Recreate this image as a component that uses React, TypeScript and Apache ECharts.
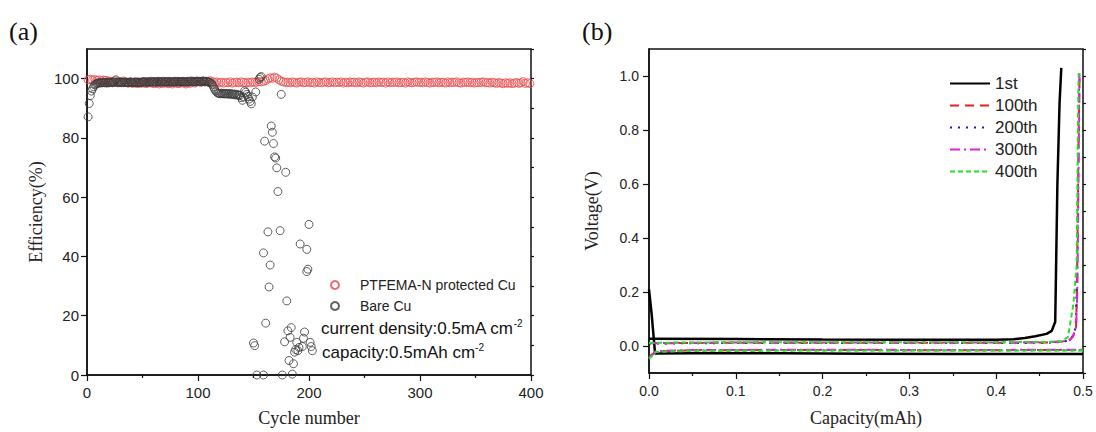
import React, { useEffect, useRef } from "react";
import * as echarts from "echarts";

// ---------- Panel (a): Coulombic efficiency vs cycle number ----------
const protectedStartCycle = 1;
const protectedCycleStep = 2;
const protectedEfficiency = [
  99.6, 99.8, 99.5, 99.7, 99.4, 99.6, 99.3, 99.5, 99.4, 99.2,
  99.1, 98.8, 99.3, 98.9, 99.0, 98.6, 99.2, 98.8, 98.5, 98.9, 98.4, 98.7, 98.3, 98.6, 98.4, 98.8, 98.3, 98.5, 98.7, 98.4,
  98.3, 98.6, 98.2, 98.5, 98.4, 98.7, 98.3, 98.5, 98.2, 98.6, 98.4, 98.3, 98.7, 98.5, 98.2, 98.6, 98.4, 98.8, 98.5, 98.9,
  99.0, 98.8, 99.2, 99.1, 98.9, 99.3, 99.0, 98.7, 98.9, 98.6, 98.8, 98.5, 98.7, 98.6, 98.9, 98.5, 98.7, 98.8, 98.6, 98.9,
  98.7, 98.5, 98.8, 98.6, 98.9, 98.7, 98.8, 99.0, 98.9, 99.1, 99.3, 99.9, 100.3, 100.1, 100.5, 100.2, 99.6, 99.1, 98.9, 98.7,
  98.8, 98.6, 98.9, 98.7, 98.5, 98.8, 98.9, 98.6, 98.7, 98.9, 98.6, 98.8, 98.5, 98.9, 98.7, 98.6, 98.8, 98.9, 98.6, 98.7,
  98.9, 98.6, 98.8, 98.7, 98.9, 98.5, 98.8, 98.6, 98.9, 98.7, 98.8, 98.6, 98.9, 98.7, 98.5, 98.8, 98.9, 98.6, 98.7, 98.8,
  98.6, 98.9, 98.7, 98.8, 98.5, 98.9, 98.6, 98.8, 98.7, 98.9, 98.6, 98.7, 98.8, 98.5, 98.9, 98.7, 98.6, 98.8, 98.9, 98.7,
  98.8, 98.6, 98.9, 98.7, 98.5, 98.8, 98.7, 98.9, 98.6, 98.8, 98.7, 98.5, 98.9, 98.6, 98.8, 98.7, 98.9, 98.6, 98.5, 98.8,
  98.7, 98.9, 98.6, 98.8, 98.5, 98.7, 98.6, 98.8, 98.9, 98.6, 98.7, 98.5, 98.8, 98.6, 98.4, 98.7, 98.5, 98.3, 98.6, 98.4,
  98.6, 98.3, 98.5, 98.7, 98.4, 98.6, 99.0, 98.4, 98.6, 98.3,
];

const bareBandStartCycle = 1;
const bareBandEfficiency = [
  87.1, 91.6, 94.3, 95.8, 96.6, 97.3, 97.9, 98.2, 98.4, 98.5,
  98.6, 98.5, 98.7, 98.6, 98.8, 98.6, 98.7, 98.5, 98.8, 98.6, 98.7, 98.8, 98.6, 98.9, 98.7, 99.6, 98.8, 98.6, 98.7, 98.9,
  98.7, 98.8, 98.6, 98.9, 98.7, 98.8, 98.6, 98.7, 98.9, 98.8, 98.6, 98.7, 98.9, 98.8, 98.7, 98.9, 98.6, 98.8, 98.7, 98.9,
  99.0, 98.8, 98.9, 98.7, 99.0, 98.8, 98.9, 99.1, 98.8, 98.9, 99.0, 98.8, 98.9, 99.1, 98.9, 98.8, 99.0, 98.9, 99.1, 98.8,
  98.9, 99.0, 98.8, 99.1, 98.9, 99.0, 98.8, 98.9, 99.1, 99.0, 98.9, 99.1, 98.8, 99.0, 98.9, 99.1, 99.0, 98.8, 99.0, 98.9,
  99.1, 98.9, 99.0, 99.2, 98.9, 99.1, 99.0, 98.9, 99.2, 99.0, 99.1, 98.9, 99.0, 99.2, 99.1, 98.9, 99.0, 99.1, 98.9, 98.8,
  98.7, 98.4, 97.9, 97.2, 96.4, 95.8, 95.4, 95.1, 95.0, 94.9, 95.1, 94.9, 95.0, 94.8, 95.0, 94.9, 94.8, 95.0, 94.7, 94.9,
  94.8, 94.6, 94.8, 94.5, 94.7, 94.4, 94.5, 94.3, 93.6, 92.7, 93.8, 95.9, 95.4, 94.7, 94.0, 93.1, 92.3, 91.5, 93.8,
];

const bareScatterCycles = [
  150, 151, 152, 153, 155, 156, 157, 159, 159, 160, 161, 163, 164, 165, 166, 167, 168, 169, 170, 171,
  172, 174, 175, 176, 178, 179, 180, 181, 182, 183, 184, 185, 186, 187, 188, 189, 190, 191, 192, 194,
  195, 196, 198, 198, 199, 200, 201, 202, 203,
];
const bareScatterEfficiency = [
  10.8, 9.9, 95.5, 0, 99.8, 100.4, 100.7, 0, 41.2, 78.9, 17.5, 48.3, 29.7, 37.1, 84.0, 81.9, 78.1, 73.6, 73.2, 69.9,
  61.9, 48.7, 94.7, 0, 11.2, 68.4, 25.0, 14.9, 4.9, 12.7, 16.0, 0.3, 3.8, 7.7, 8.6, 11.0, 8.2, 9.3, 44.2, 9.6,
  12.4, 14.5, 42.4, 34.9, 35.7, 50.8, 11.0, 9.6, 8.2,
];

const efficiencyTicks = [0, 20, 40, 60, 80, 100];
const cycleTicks = [0, 100, 200, 300, 400];

// ---------- Panel (b): voltage profiles ----------
const cycleNames = ["1st", "100th", "200th", "300th", "400th"];

const c1PlateCap = [0, 0.003, 0.007, 0.05, 0.15, 0.25, 0.35, 0.45, 0.5];
const c1PlateVolt = [0.21, 0.12, -0.028, -0.027, -0.027, -0.029, -0.03, -0.03, -0.03];
const c1StripCap = [0, 0.1, 0.2, 0.3, 0.4, 0.42, 0.433, 0.445, 0.458, 0.464, 0.468, 0.4705, 0.473, 0.475];
const c1StripVolt = [0.027, 0.026, 0.024, 0.023, 0.023, 0.025, 0.03, 0.036, 0.045, 0.056, 0.09, 0.6, 0.9, 1.03];

const cNPlateCap = [0, 0.004, 0.008, 0.05, 0.15, 0.25, 0.35, 0.45, 0.5];
const c100PlateVolt = [-0.04, -0.03, -0.02, -0.016, -0.015, -0.015, -0.016, -0.015, -0.015];
const c200PlateVolt = [-0.043, -0.032, -0.021, -0.017, -0.016, -0.016, -0.016, -0.016, -0.016];
const c300PlateVolt = [-0.045, -0.033, -0.019, -0.015, -0.014, -0.014, -0.015, -0.014, -0.014];
const c400PlateVolt = [-0.047, -0.034, -0.022, -0.018, -0.017, -0.017, -0.017, -0.017, -0.017];

const c100StripCap = [0, 0.1, 0.2, 0.3, 0.4, 0.46, 0.478, 0.485, 0.489, 0.492, 0.493, 0.494, 0.495, 0.496];
const c100StripVolt = [0.01, 0.012, 0.012, 0.012, 0.012, 0.013, 0.017, 0.024, 0.04, 0.07, 0.2, 0.5, 0.8, 1.0];
const c200StripCap = [0, 0.1, 0.2, 0.3, 0.4, 0.46, 0.478, 0.485, 0.489, 0.4915, 0.493, 0.494, 0.495, 0.4955];
const c200StripVolt = [0.009, 0.011, 0.011, 0.011, 0.011, 0.012, 0.016, 0.023, 0.038, 0.07, 0.25, 0.55, 0.85, 1.0];
const c300StripCap = [0, 0.1, 0.2, 0.3, 0.4, 0.46, 0.478, 0.485, 0.489, 0.492, 0.4935, 0.4945, 0.4955, 0.496];
const c300StripVolt = [0.011, 0.013, 0.013, 0.013, 0.013, 0.014, 0.018, 0.022, 0.04, 0.07, 0.2, 0.5, 0.85, 1.01];
const c400StripCap = [0, 0.1, 0.2, 0.3, 0.4, 0.46, 0.475, 0.4827, 0.4889, 0.4927, 0.4935, 0.494, 0.4945, 0.495];
const c400StripVolt = [0.012, 0.014, 0.014, 0.014, 0.014, 0.015, 0.018, 0.033, 0.155, 0.3, 0.55, 0.75, 0.9, 1.01];

const voltageTicks = [0, 0.2, 0.4, 0.6, 0.8, 1.0];

const zip = (xs: number[], ys: number[]) => xs.map((x, i) => [x, ys[i]]);

const SANS = "'Liberation Sans', Arial, sans-serif";
const SERIF = "'Liberation Serif', 'Times New Roman', serif";
const INK = "#111";

export default function App() {
  const ref = useRef<HTMLDivElement>(null);

  useEffect(() => {
    if (!ref.current) return;
    const chart = echarts.init(ref.current, null, { renderer: "svg" });

    const axisLine = { show: true, onZero: false, lineStyle: { color: INK, width: 1.5 } };
    const tickStyle = { color: INK, width: 1.2 };

    const protectedData = protectedEfficiency.map((v, i) => [protectedStartCycle + i * protectedCycleStep, v]);
    const bareData = bareBandEfficiency
      .map((v, i) => [bareBandStartCycle + i, v])
      .concat(zip(bareScatterCycles, bareScatterEfficiency));

    const lineSeries = (name: string, data: number[][], color: string, type: any, width: number) => ({
      name,
      type: "line",
      xAxisIndex: 1,
      yAxisIndex: 2,
      data,
      symbol: "none",
      showSymbol: false,
      lineStyle: { color, width, type },
      itemStyle: { color },
      z: 3,
    });

    const colors = { c1: "#000000", c100: "#ee1c1c", c200: "#1a1ac8", c300: "#e020e0", c400: "#22e022" };

    const option: any = {
      animation: false,
      backgroundColor: "#ffffff",
      textStyle: { fontFamily: SANS },
      grid: [
        { left: 87, top: 49, width: 444, height: 328, show: true, borderColor: INK, borderWidth: 1.5, backgroundColor: "transparent" },
        { left: 649, top: 49, width: 434, height: 327, show: true, borderColor: INK, borderWidth: 1.5, backgroundColor: "transparent" },
      ],
      xAxis: [
        {
          gridIndex: 0,
          type: "value",
          min: 0,
          max: 400,
          interval: 100,
          name: "Cycle number",
          nameLocation: "middle",
          nameGap: 34,
          nameTextStyle: { fontFamily: SERIF, fontSize: 18, color: "#222" },
          axisLine,
          axisTick: { show: true, length: 6, lineStyle: tickStyle },
          minorTick: { show: true, splitNumber: 2, length: 3, lineStyle: tickStyle },
          axisLabel: { fontSize: 15, color: "#222", margin: 10, customValues: cycleTicks },
          splitLine: { show: false },
        },
        {
          gridIndex: 1,
          type: "value",
          min: 0,
          max: 0.5,
          interval: 0.1,
          name: "Capacity(mAh)",
          nameLocation: "middle",
          nameGap: 36,
          nameTextStyle: { fontFamily: SERIF, fontSize: 18, color: "#222" },
          axisLine,
          axisTick: { show: true, length: 6, lineStyle: tickStyle },
          minorTick: { show: true, splitNumber: 2, length: 3, lineStyle: tickStyle },
          axisLabel: { fontSize: 14, color: "#222", margin: 11, formatter: (v: number) => v.toFixed(1) },
          splitLine: { show: false },
        },
      ],
      yAxis: [
        {
          gridIndex: 0,
          type: "value",
          min: 0,
          max: 110,
          name: "Efficiency(%)",
          nameLocation: "middle",
          nameGap: 42,
          nameTextStyle: { fontFamily: SERIF, fontSize: 18, color: "#222" },
          axisLine,
          axisTick: { show: true, length: 6, lineStyle: tickStyle, customValues: efficiencyTicks },
          axisLabel: { fontSize: 15, color: "#222", margin: 8, customValues: efficiencyTicks },
          splitLine: { show: false },
        },
        {
          gridIndex: 0,
          type: "value",
          min: 0,
          max: 110,
          interval: 10,
          axisLine: { show: false, onZero: false },
          axisTick: { show: true, length: 3, lineStyle: tickStyle },
          axisLabel: { show: false },
          splitLine: { show: false },
        },
        {
          gridIndex: 1,
          type: "value",
          min: -0.1,
          max: 1.1,
          name: "Voltage(V)",
          nameLocation: "middle",
          nameGap: 48,
          nameTextStyle: { fontFamily: SERIF, fontSize: 18, color: "#222" },
          axisLine,
          axisTick: { show: true, length: 6, lineStyle: tickStyle, customValues: voltageTicks },
          axisLabel: {
            fontSize: 14,
            color: "#222",
            margin: 10,
            customValues: voltageTicks,
            formatter: (v: number) => v.toFixed(1),
          },
          splitLine: { show: false },
        },
        {
          gridIndex: 1,
          type: "value",
          min: -0.1,
          max: 1.1,
          interval: 0.1,
          axisLine: { show: false, onZero: false },
          axisTick: { show: true, length: 3, lineStyle: tickStyle },
          axisLabel: { show: false },
          splitLine: { show: false },
        },
      ],
      legend: [
        {
          data: ["PTFEMA-N protected Cu", "Bare Cu"],
          orient: "vertical",
          left: 325,
          top: 273,
          itemWidth: 40,
          itemHeight: 8,
          itemGap: 7,
          selectedMode: false,
          textStyle: { fontSize: 14, color: "#222", fontFamily: SANS },
        },
        {
          data: cycleNames,
          orient: "vertical",
          left: 944,
          top: 70,
          itemWidth: 40,
          itemHeight: 14,
          itemGap: 5,
          selectedMode: false,
          itemStyle: { color: "transparent", borderColor: "transparent", borderWidth: 0, opacity: 0 },
          textStyle: { fontSize: 17, color: "#222", fontFamily: SANS },
        },
      ],
      series: [
        {
          name: "PTFEMA-N protected Cu",
          type: "scatter",
          xAxisIndex: 0,
          yAxisIndex: 0,
          data: protectedData,
          symbol: "circle",
          symbolSize: 8,
          itemStyle: { color: "transparent", borderColor: "#e8474a", borderWidth: 1 },
          clip: false,
        },
        {
          name: "Bare Cu",
          type: "scatter",
          xAxisIndex: 0,
          yAxisIndex: 0,
          data: bareData,
          symbol: "circle",
          symbolSize: 8,
          itemStyle: { color: "transparent", borderColor: "#3a3a3a", borderWidth: 1 },
          clip: false,
        },
        lineSeries(cycleNames[0], zip(c1StripCap, c1StripVolt), colors.c1, "solid", 2.5),
        lineSeries(cycleNames[0], zip(c1PlateCap, c1PlateVolt), colors.c1, "solid", 2.5),
        lineSeries(cycleNames[1], zip(c100StripCap, c100StripVolt), colors.c100, [9, 6], 2),
        lineSeries(cycleNames[1], zip(cNPlateCap, c100PlateVolt), colors.c100, [9, 6], 2),
        lineSeries(cycleNames[2], zip(c200StripCap, c200StripVolt), colors.c200, [2, 6], 2),
        lineSeries(cycleNames[2], zip(cNPlateCap, c200PlateVolt), colors.c200, [2, 6], 2),
        lineSeries(cycleNames[3], zip(c300StripCap, c300StripVolt), colors.c300, [10, 4, 2, 4], 2),
        lineSeries(cycleNames[3], zip(cNPlateCap, c300PlateVolt), colors.c300, [10, 4, 2, 4], 2),
        lineSeries(cycleNames[4], zip(c400StripCap, c400StripVolt), colors.c400, [5, 3], 2),
        lineSeries(cycleNames[4], zip(cNPlateCap, c400PlateVolt), colors.c400, [5, 3], 2),
      ],
      graphic: [
        {
          type: "text",
          x: 9,
          y: 31,
          style: { text: "(a)", fontFamily: SERIF, fontSize: 26, fill: INK, align: "left", verticalAlign: "middle" },
        },
        {
          type: "text",
          x: 582,
          y: 31,
          style: { text: "(b)", fontFamily: SERIF, fontSize: 26, fill: INK, align: "left", verticalAlign: "middle" },
        },
        {
          type: "text",
          x: 321,
          y: 328,
          style: {
            text: "{m|current density:0.5mA cm}{s|-2}",
            align: "left",
            verticalAlign: "middle",
            rich: {
              m: { fontFamily: SANS, fontSize: 17, fill: INK, lineHeight: 20 },
              s: { fontFamily: SANS, fontSize: 10, fill: INK, lineHeight: 11, verticalAlign: "top" },
            },
          },
        },
        {
          type: "text",
          x: 322,
          y: 352,
          style: {
            text: "{m|capacity:0.5mAh cm}{s|-2}",
            align: "left",
            verticalAlign: "middle",
            rich: {
              m: { fontFamily: SANS, fontSize: 17, fill: INK, lineHeight: 20 },
              s: { fontFamily: SANS, fontSize: 10, fill: INK, lineHeight: 11, verticalAlign: "top" },
            },
          },
        },
      ],
    };

    chart.setOption(option);
    return () => chart.dispose();
  }, []);

  return (
    <div
      ref={ref}
      style={{ position: "fixed", left: 0, top: 0, width: 1096, height: 432, background: "#fff" }}
    />
  );
}
